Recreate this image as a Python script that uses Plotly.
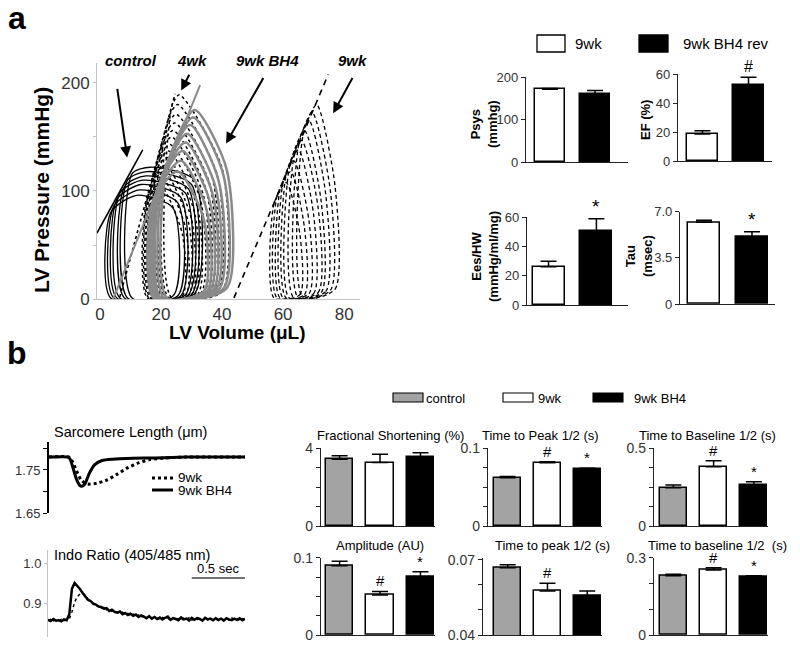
import plotly.graph_objects as go

W, H = 800, 651
OFF = 8  # page body margin around the plot div
FONT = "Arial, Liberation Sans, sans-serif"

# ---- panel a (left): PV loops, one tuple per beat ----
# (ESV, EDV, P at EDV, P right shoulder, V at peak, peak P, P at ESV corner)
control_loops = [
    (3.5, 24.0, 3, 84, 12.0, 96, 80),
    (4.5, 25.5, 3, 89, 13.0, 101, 86),
    (5.5, 26.5, 3, 94, 13.5, 106, 92),
    (6.5, 28.0, 4, 98, 14.0, 110, 98),
    (8.0, 29.0, 4, 102, 15.0, 114, 104),
    (9.0, 30.0, 4, 106, 15.5, 118, 110),
    (10.5, 31.0, 5, 110, 16.5, 122, 116),
]
wk4_loops = [
    (15.5, 27.0, 3, 60, 20.0, 104, 92),
    (16.0, 28.0, 3, 66, 20.5, 111, 98),
    (16.5, 29.0, 3, 71, 21.0, 118, 104),
    (17.0, 30.0, 4, 74, 21.5, 124, 110),
    (17.5, 31.0, 4, 80, 22.0, 131, 115),
    (18.0, 32.0, 4, 84, 22.5, 137, 121),
    (18.5, 33.0, 5, 91, 23.0, 143, 126),
    (19.0, 34.0, 5, 95, 23.5, 150, 131),
    (19.5, 35.0, 5, 99, 24.0, 156, 137),
    (20.5, 36.0, 6, 106, 24.5, 163, 147),
    (21.5, 37.0, 6, 110, 25.0, 171, 157),
    (22.5, 38.5, 7, 114, 25.5, 180, 168),
    (23.5, 40.0, 7, 121, 26.0, 189, 178),
]
bh4_loops = [
    (17.5, 34.0, 7, 74, 25.5, 118, 92),
    (18.0, 35.0, 7, 82, 26.5, 128, 95),
    (18.5, 36.0, 8, 90, 27.0, 137, 99),
    (19.0, 37.0, 8, 96, 28.0, 145, 102),
    (19.5, 38.0, 9, 102, 28.5, 153, 106),
    (20.0, 39.0, 9, 108, 29.5, 161, 109),
    (21.0, 40.5, 10, 114, 30.5, 168, 116),
    (22.0, 41.5, 10, 120, 31.0, 175, 123),
]
wk9_loops = [
    (57.0, 65.5, 4, 60, 61.0, 108, 88),
    (58.0, 67.0, 4, 66, 62.5, 118, 95),
    (59.0, 68.5, 5, 72, 63.5, 128, 101),
    (60.0, 70.0, 5, 78, 65.0, 138, 108),
    (61.0, 71.5, 6, 84, 66.0, 147, 115),
    (62.0, 72.5, 6, 90, 67.0, 156, 121),
    (63.5, 74.0, 7, 96, 68.5, 165, 131),
    (65.0, 75.5, 8, 100, 69.5, 173, 141),
    (66.5, 77.0, 9, 105, 71.0, 180, 151),
]
loop_floor = 1  # mmHg at end of relaxation

# ESPVR lines
control_espvr_v, control_espvr_p = [-1, 14], [61, 138]
wk4_espvr_v, wk4_espvr_p = [6.5, 24.6], [2, 190]
bh4_espvr_v, bh4_espvr_p = [4.3, 32.8], [0, 198]
wk9_espvr_v, wk9_espvr_p = [43.9, 74.8], [1, 208]

# ---- panel a (right): hemodynamics ----
groups_a = ['9wk', '9wk BH4 rev']
psys, psys_err = [171, 160], [2, 8]
ef, ef_err = [18.6, 52.4], [2.3, 5.3]
ees, ees_err = [26.1, 50.7], [3.7, 8.1]
tau, tau_err = [6.2, 5.1], [0.15, 0.38]
psys_sig, ef_sig, ees_sig, tau_sig = ['', ''], ['', '#'], ['', '*'], ['', '*']

# ---- panel b: myocyte shortening / calcium ----
groups_b = ['control', '9wk', '9wk BH4']
fs, fs_err = [3.42, 3.25, 3.55], [0.18, 0.43, 0.21]
ttp, ttp_err = [0.062, 0.081, 0.0727], [0.0015, 0.0015, 0.0013]
ttb, ttb_err = [0.245, 0.38, 0.263], [0.018, 0.039, 0.021]
amp, amp_err = [0.0897, 0.0517, 0.0754], [0.0056, 0.0047, 0.0065]
ttp_ca, ttp_ca_err = [0.0669, 0.0576, 0.0556], [0.0012, 0.0031, 0.002]
ttb_ca, ttb_ca_err = [0.230, 0.252, 0.226], [0.006, 0.009, 0.004]
fs_sig, ttp_sig, ttb_sig = ['', '', ''], ['', '#', '*'], ['', '#', '*']
amp_sig, ttp_ca_sig, ttb_ca_sig = ['', '#', '*'], ['', '#', ''], ['', '#', '*']

# sarcomere length traces (s, um)
sl_t_bh4 = [0, 0.18, 0.2, 0.23, 0.26, 0.29, 0.31, 0.34, 0.38, 0.43, 0.5, 0.6, 0.8, 1.0, 1.3, 1.85]
sl_bh4 = [1.780, 1.780, 1.775, 1.752, 1.728, 1.714, 1.712, 1.718, 1.742, 1.762, 1.772, 1.775,
          1.777, 1.778, 1.780, 1.780]
sl_t_9wk = [0, 0.19, 0.22, 0.26, 0.3, 0.34, 0.38, 0.45, 0.55, 0.65, 0.75, 0.85, 0.95, 1.1, 1.3, 1.85]
sl_9wk = [1.780, 1.780, 1.770, 1.748, 1.728, 1.719, 1.717, 1.719, 1.727, 1.741, 1.756, 1.767,
          1.774, 1.778, 1.780, 1.780]

# indo-1 ratio, sampled every 25 ms
indo_dt = 0.025
indo_bh4 = [0.858, 0.855, 0.860, 0.856, 0.857, 0.854, 0.859, 0.857, 0.872, 0.936, 0.950, 0.943,
            0.935, 0.925, 0.917, 0.908, 0.905, 0.898, 0.896, 0.891, 0.890, 0.886, 0.887, 0.880,
            0.883, 0.878, 0.876, 0.879, 0.872, 0.875, 0.870, 0.873, 0.868, 0.871, 0.865, 0.869,
            0.866, 0.862, 0.867, 0.861, 0.865, 0.860, 0.864, 0.859, 0.863, 0.866, 0.858, 0.862,
            0.860, 0.857, 0.864, 0.859, 0.861, 0.856, 0.863, 0.858, 0.862, 0.860, 0.856, 0.863,
            0.859, 0.861, 0.857, 0.862, 0.858, 0.861, 0.856, 0.862, 0.859, 0.857, 0.861, 0.858,
            0.862, 0.857, 0.860]
indo_9wk = [0.856, 0.859, 0.855, 0.858, 0.856, 0.859, 0.855, 0.858, 0.860, 0.878, 0.902, 0.916,
            0.922, 0.925, 0.919, 0.910, 0.904, 0.899, 0.894, 0.892, 0.887, 0.889, 0.883, 0.885,
            0.879, 0.881, 0.877, 0.874, 0.877, 0.871, 0.874, 0.869, 0.872, 0.866, 0.870, 0.864,
            0.868, 0.863, 0.866, 0.861, 0.865, 0.862, 0.859, 0.864, 0.860, 0.862, 0.857, 0.863,
            0.858, 0.861, 0.856, 0.862, 0.859, 0.863, 0.857, 0.860, 0.858, 0.862, 0.856, 0.861,
            0.858, 0.863, 0.857, 0.860, 0.856, 0.862, 0.858, 0.861, 0.857, 0.863, 0.858, 0.860,
            0.856, 0.861, 0.858]
scale_bar_t = [1.35, 1.85]
scale_bar_y = 0.9625


def X(p):
    return (p - OFF) / W


def Y(p):
    return 1 - (p - OFF) / H


fig = go.Figure()
layout = {}
annotations = []
shapes = []


def add_loops(loops, line):
    for esv, edv, ped, psh, vpk, pk, pes in loops:
        fig.add_trace(go.Scatter(
            x=[esv, edv, edv, vpk, esv, esv],
            y=[loop_floor, ped, psh, pk, pes, loop_floor],
            mode='lines', line=dict(shape='spline', smoothing=0.7, **line),
            xaxis='x', yaxis='y', showlegend=False, hoverinfo='skip'))


def add_line(v, p, line):
    fig.add_trace(go.Scatter(x=v, y=p, mode='lines', line=line, xaxis='x', yaxis='y',
                             showlegend=False, hoverinfo='skip'))


def note(xp, yp, text, size, **kw):
    # text placed in page pixels
    a = dict(x=X(xp), y=Y(yp), xref='paper', yref='paper', showarrow=False, text=text,
             font=dict(size=size), xanchor='center', yanchor='middle')
    a.update(kw)
    annotations.append(a)


add_loops(wk4_loops, dict(color='black', width=1.5, dash='dot'))
add_loops(control_loops, dict(color='black', width=1.3))
add_loops(bh4_loops, dict(color='#8a8a8a', width=2.5))
add_loops(wk9_loops, dict(color='black', width=1.3, dash='4px,3px'))
add_line(control_espvr_v, control_espvr_p, dict(color='black', width=1.6))
add_line(wk4_espvr_v, wk4_espvr_p, dict(color='black', width=1.6, dash='dot'))
add_line(bh4_espvr_v, bh4_espvr_p, dict(color='#8a8a8a', width=2))
add_line(wk9_espvr_v, wk9_espvr_p, dict(color='black', width=1.6, dash='6px,5px'))

layout['xaxis'] = dict(domain=[X(97), X(360)], range=[-0.98, 85.2], anchor='y',
                       showline=True, linecolor='#c4c4c4', linewidth=1, ticks='',
                       tickvals=[0, 20, 40, 60, 80], tickfont=dict(size=17, color='#333'),
                       showgrid=False, zeroline=False, automargin=False)
layout['yaxis'] = dict(domain=[Y(299), Y(63)], range=[0, 218.5], anchor='x',
                       showline=True, linecolor='#c4c4c4', linewidth=1, ticks='outside',
                       ticklen=3, tickcolor='#c4c4c4', tickvals=[0, 50, 100, 150, 200],
                       ticktext=['0', '', '100', '', '200'], tickfont=dict(size=17, color='#333'),
                       showgrid=False, zeroline=False, automargin=False)

# arrows: (head V, head P, tail V, tail P)
for hv, hp, tv, tp in [(8.9, 131, 5.6, 196), (26.6, 193, 29.5, 209),
                       (41.3, 144, 53.8, 206), (76.4, 172, 83.0, 206)]:
    annotations.append(dict(x=hv, y=hp, ax=tv, ay=tp, xref='x', yref='y', axref='x', ayref='y',
                            text='', showarrow=True, arrowhead=2, arrowsize=1.1, arrowwidth=2,
                            arrowcolor='black'))
for txt, xp in [('control', 131), ('4wk', 192), ('9wk BH4', 267), ('9wk', 352)]:
    note(xp, 60, '<b><i>%s</i></b>' % txt, 15)
note(42, 190, '<b>LV Pressure (mmHg)</b>', 21, textangle=-90)
note(238, 332, '<b>LV Volume (μL)</b>', 19)
note(17, 18, '<b>a</b>', 32)
note(17, 353, '<b>b</b>', 32)


def bar_panel(n, groups, means, errs, colors, sig, sig_size, xdom, ydom, xr, yr, tickvals, ticktext,
              tick_size=14, cap=8):
    xa, ya = 'x%d' % n, 'y%d' % n
    fig.add_trace(go.Bar(
        x=groups, y=means, width=0.67,
        marker=dict(color=colors, line=dict(color='black', width=1.5)),
        error_y=dict(type='data', array=errs, arrayminus=[0] * len(errs), symmetric=False,
                     color='black', thickness=1.5, width=cap),
        xaxis=xa, yaxis=ya, showlegend=False, hoverinfo='skip'))
    layout['xaxis%d' % n] = dict(domain=[X(xdom[0]), X(xdom[1])], range=xr, anchor=ya,
                                 showline=True, linecolor='#222', linewidth=1.3,
                                 showticklabels=False, ticks='', showgrid=False, zeroline=False,
                                 automargin=False)
    layout['yaxis%d' % n] = dict(domain=[Y(ydom[0]), Y(ydom[1])], range=yr, anchor=xa,
                                 showline=True, linecolor='#222', linewidth=1.3, ticks='outside',
                                 ticklen=4, tickcolor='#222', tickvals=tickvals, ticktext=ticktext,
                                 tickfont=dict(size=tick_size, color='#333'), showgrid=False,
                                 zeroline=False, automargin=False)
    for g, m, e, s in zip(groups, means, errs, sig):
        if s:
            annotations.append(dict(x=g, y=m + e, xref=xa, yref=ya, text=s, showarrow=False,
                                    xanchor='center', yanchor='bottom', font=dict(size=sig_size)))


fill_a = ['white', 'black']
fill_b = ['#a3a3a3', 'white', 'black']

bar_panel(2, groups_a, psys, psys_err, fill_a, psys_sig, 16, (526, 628), (162, 77),
          [-0.53, 1.73], [0, 200], [0, 100, 200], ['0', '100', '200'], tick_size=13)
bar_panel(3, groups_a, ef, ef_err, fill_a, ef_sig, 16, (678, 772), (161, 74),
          [-0.53, 1.51], [0, 60], [0, 20, 40, 60], ['0', '20', '40', '60'], tick_size=13)
bar_panel(4, groups_a, ees, ees_err, fill_a, ees_sig, 19, (527, 628), (305, 217),
          [-0.45, 1.66], [0, 60], [0, 20, 40, 60], ['0', '20', '40', '60'], tick_size=13)
bar_panel(5, groups_a, tau, tau_err, fill_a, tau_sig, 19, (680, 775), (304, 211.7),
          [-0.5, 1.48], [0, 7], [0, 3.5, 7], ['0', '3.5', '7.0'], tick_size=13)

bar_panel(6, groups_b, fs, fs_err, fill_b, fs_sig, 15, (321, 435), (526, 448),
          [-0.46, 2.36], [0, 4], [0, 1, 2, 3, 4], ['0', '', '', '', '4'])
bar_panel(7, groups_b, ttp, ttp_err, fill_b, ttp_sig, 15, (488, 602), (526, 448),
          [-0.49, 2.37], [0, 0.1], [0, 0.025, 0.05, 0.075, 0.1], ['0', '', '', '', '0.1'])
bar_panel(8, groups_b, ttb, ttb_err, fill_b, ttb_sig, 15, (654, 768), (526, 448),
          [-0.48, 2.35], [0, 0.5], [0, 0.125, 0.25, 0.375, 0.5], ['0', '', '', '', '0.5'])
bar_panel(9, groups_b, amp, amp_err, fill_b, amp_sig, 15, (321, 435), (635, 557.7),
          [-0.46, 2.36], [0, 0.1], [0, 0.025, 0.05, 0.075, 0.1], ['0', '', '', '', '0.1'])
bar_panel(10, groups_b, ttp_ca, ttp_ca_err, fill_b, ttp_ca_sig, 15, (483, 602), (635, 557.7),
          [-0.62, 2.37], [0.04, 0.0709], [0.04, 0.05, 0.06, 0.07], ['0.04', '', '', '0.07'])
bar_panel(11, groups_b, ttb_ca, ttb_ca_err, fill_b, ttb_ca_sig, 15, (654, 768), (635, 557.7),
          [-0.48, 2.35], [0, 0.3], [0, 0.1, 0.2, 0.3], ['0', '', '', '0.3'])

# axis labels for the hemodynamic bars
for txt, xp, yp in [('Psys<br>(mmhg)', 484, 124), ('EF (%)', 645, 120),
                    ('Ees/HW<br>(mmHg/ml/mg)', 485, 256), ('Tau<br>(msec)', 639, 256)]:
    note(xp, yp, '<b>%s</b>' % txt, 13, textangle=-90)

# panel b bar titles
for txt, xp, yp in [('Fractional Shortening (%)', 390, 435), ('Time to Peak 1/2 (s)', 540, 435),
                    ('Time to Baseline 1/2 (s)', 707, 435), ('Amplitude (AU)', 380, 545),
                    ('Time to peak 1/2 (s)', 552, 545), ('Time to baseline 1/2  (s)', 717, 545)]:
    note(xp, yp, txt, 13)

# legends
for x0, x1, fill, txt, tx in [(537, 565, 'white', '9wk', 573), (639, 668, 'black', '9wk BH4 rev', 681)]:
    shapes.append(dict(type='rect', xref='paper', yref='paper', x0=X(x0), x1=X(x1),
                       y0=Y(52), y1=Y(35), fillcolor=fill, line=dict(color='black', width=1.3)))
    note(tx, 44, txt, 15, xanchor='left')
for x0, x1, fill, txt, tx in [(393, 423, '#a3a3a3', 'control', 424), (503, 533, 'white', '9wk', 536),
                              (593, 623, 'black', '9wk BH4', 632)]:
    shapes.append(dict(type='rect', xref='paper', yref='paper', x0=X(x0), x1=X(x1),
                       y0=Y(402), y1=Y(393), fillcolor=fill, line=dict(color='black', width=1.1)))
    note(tx, 398, txt, 13, xanchor='left')

# sarcomere length traces
fig.add_trace(go.Scatter(x=sl_t_9wk, y=sl_9wk, mode='lines', xaxis='x12', yaxis='y12',
                         line=dict(color='black', width=3, dash='dot', shape='spline', smoothing=0.6),
                         showlegend=False, hoverinfo='skip'))
fig.add_trace(go.Scatter(x=sl_t_bh4, y=sl_bh4, mode='lines', xaxis='x12', yaxis='y12',
                         line=dict(color='black', width=3, shape='spline', smoothing=0.6),
                         showlegend=False, hoverinfo='skip'))
layout['xaxis12'] = dict(domain=[X(49), X(245)], range=[0, 1.85], anchor='y12', visible=False)
layout['yaxis12'] = dict(domain=[Y(513), Y(442)], range=[1.65, 1.815], anchor='x12',
                         showline=True, linecolor='black', linewidth=2, ticks='outside', ticklen=4,
                         tickcolor='black', tickvals=[1.65, 1.70, 1.75, 1.80],
                         ticktext=['1.65', '', '1.75', ''], tickfont=dict(size=13, color='#333'),
                         showgrid=False, zeroline=False, automargin=False)
for y, dash, txt in [(478, 'dot', '9wk'), (490, 'solid', '9wk BH4')]:
    shapes.append(dict(type='line', xref='paper', yref='paper', x0=X(152), x1=X(173),
                       y0=Y(y), y1=Y(y), line=dict(color='black', width=3, dash=dash)))
    note(176, y, txt, 13.5, xanchor='left')
note(52, 432, 'Sarcomere Length (μm)', 14.5, xanchor='left')

# indo ratio traces
fig.add_trace(go.Scatter(x0=0, dx=indo_dt, y=indo_9wk, mode='lines', xaxis='x13', yaxis='y13',
                         line=dict(color='black', width=1.5, dash='dot'),
                         showlegend=False, hoverinfo='skip'))
fig.add_trace(go.Scatter(x0=0, dx=indo_dt, y=indo_bh4, mode='lines', xaxis='x13', yaxis='y13',
                         line=dict(color='black', width=2.5),
                         showlegend=False, hoverinfo='skip'))
layout['xaxis13'] = dict(domain=[X(48), X(245)], range=[0, 1.85], anchor='y13', visible=False)
layout['yaxis13'] = dict(domain=[Y(637), Y(550)], range=[0.815, 1.0325], anchor='x13',
                         showline=True, linecolor='#c4c4c4', linewidth=1, ticks='outside',
                         ticklen=3, tickcolor='#c4c4c4', tickvals=[0.9, 1.0],
                         ticktext=['0.9', '1.0'], tickfont=dict(size=13, color='#333'),
                         showgrid=False, zeroline=False, automargin=False)
shapes.append(dict(type='line', xref='x13', yref='y13', x0=scale_bar_t[0], x1=scale_bar_t[1],
                   y0=scale_bar_y, y1=scale_bar_y, line=dict(color='#444', width=1.5)))
annotations.append(dict(x=sum(scale_bar_t) / 2, y=scale_bar_y, xref='x13', yref='y13',
                        showarrow=False, xanchor='center', yanchor='bottom', text='0.5 sec',
                        font=dict(size=13)))
note(52, 555, 'Indo Ratio (405/485 nm)', 14.5, xanchor='left')

fig.update_layout(
    width=W, height=H,
    margin=dict(l=0, r=0, t=0, b=0, autoexpand=False),
    paper_bgcolor='white', plot_bgcolor='white',
    font=dict(family=FONT, color='black'),
    bargap=0,
    annotations=annotations, shapes=shapes,
    **layout
)

fig.write_html("out.html")
